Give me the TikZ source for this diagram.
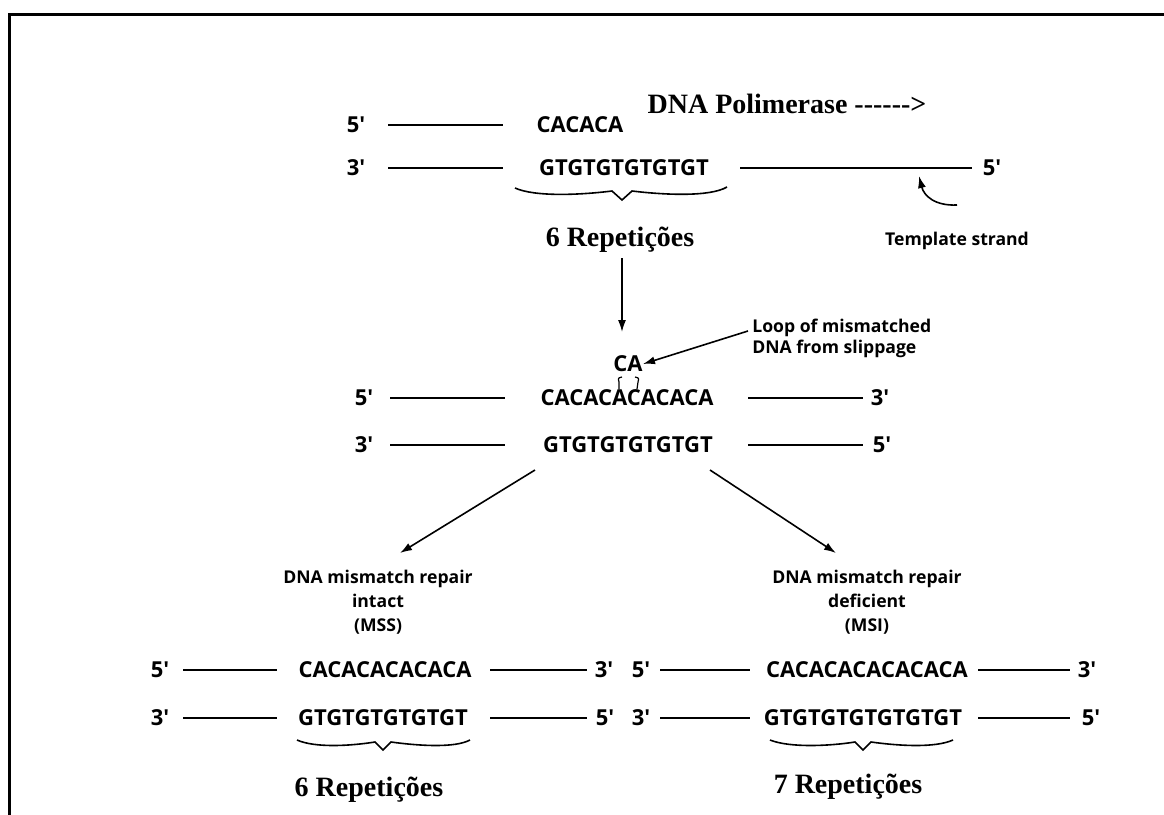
\documentclass[tikz,border=0pt]{standalone}
\usepackage{fontspec}
\setmainfont{Liberation Serif}
\newfontfamily\osans{Open Sans}
\usetikzlibrary{arrows.meta}
\begin{document}
\begin{tikzpicture}[x=0.5pt,y=-0.5pt,
 seq/.style={font=\osans\bfseries\fontsize{11}{13}\selectfont, inner sep=0},
 lab/.style={font=\osans\bfseries\fontsize{8.8}{12}\selectfont, inner sep=0, align=center},
 ser/.style={font=\bfseries\fontsize{14}{16}\selectfont, inner sep=0},
 strand/.style={line width=1pt},
 arr/.style={line width=0.8pt,-{Latex[length=6pt,width=4pt]}},
 bracestyle/.style={line width=0.8pt}]
\useasboundingbox (0,0) rectangle (1164,815);
\draw[line width=1.5pt] (9,815) -- (9,14) -- (1164,14);

% ---- top
\node[ser] (pol) at (787,104) {DNA Polimerase {-}{-}{-}{-}{-}{-}>};
\node[seq] (a5) at (356,125) {5'};
\node[seq] (aseq) at (580,125) {CACACA};
\draw[strand] (388,125) -- (503,125);
\node[seq] (b3) at (356,168) {3'};
\node[seq] (bseq) at (624,168) {GTGTGTGTGTGT};
\node[seq] (b5) at (992,168) {5'};
\draw[strand] (388,168) -- (503,168);
\draw[strand] (740,168) -- (972,168);
\draw[bracestyle] (515,188) .. controls (535,197) and (580,195) .. (612,191) -- (622,200) -- (632,191) .. controls (665,195) and (710,197) .. (727,187);
\node[ser] (rep1) at (620,240) {6 Repetições};
\node[lab] (tmpl) at (957,241) {Template strand};
\coordinate (tA) at (957,205);
\coordinate (tB) at (919,176);
\draw[arr] (tA) .. controls (935,206) and (924,196) .. (tB);

% ---- middle
\coordinate (vA) at (622,258);
\coordinate (vB) at (622,332);
\draw[arr] (vA) -- (vB);
\node[seq] (ca) at (628,364) {CA};
\node[lab, align=left, anchor=west, font=\osans\bfseries\fontsize{8.8}{10.5}\selectfont] (loop) at (752,338) {Loop of mismatched\\DNA from slippage};
\coordinate (lA) at (748,331);
\draw[arr] (lA) -- (ca.east);
\draw[line width=0.6pt] (622,377) .. controls (618,378) .. (619,382) -- (619,389);
\draw[line width=0.6pt] (635,377) .. controls (639,378) .. (638,382) -- (637,389);

\node[seq] (c5) at (364,398) {5'};
\node[seq] (cseq) at (627,398) {CACACACACACA};
\node[seq] (c3) at (880,398) {3'};
\draw[strand] (390,398) -- (505,398);
\draw[strand] (748,398) -- (863,398);
\node[seq] (d3) at (364,445) {3'};
\node[seq] (dseq) at (628,445) {GTGTGTGTGTGT};
\node[seq] (d5) at (882,445) {5'};
\draw[strand] (390,445) -- (505,445);
\draw[strand] (748,445) -- (863,445);

\coordinate (dL) at (535,470);
\coordinate (dR) at (710,470);
\coordinate (eL) at (400,553);
\coordinate (eR) at (836,553);
\draw[arr] (dL) -- (eL);
\draw[arr] (dR) -- (eR);

\node[lab] (mss) at (378,602) {DNA mismatch repair\\intact\\(MSS)};
\node[lab] (msi) at (867,602) {DNA mismatch repair\\deficient\\(MSI)};

% ---- bottom left
\node[seq] (f5) at (160,670) {5'};
\node[seq] (fseq) at (385,670) {CACACACACACA};
\node[seq] (f3) at (604,670) {3'};
\draw[strand] (183,670) -- (277,670);
\draw[strand] (490,670) -- (587,670);
\node[seq] (g3) at (160,718) {3'};
\node[seq] (gseq) at (383,718) {GTGTGTGTGTGT};
\node[seq] (g5) at (605,718) {5'};
\draw[strand] (183,718) -- (277,718);
\draw[strand] (490,718) -- (587,718);
\draw[bracestyle] (297,740) .. controls (315,748) and (350,746) .. (375,742) -- (383,750) -- (391,742) .. controls (420,746) and (455,748) .. (470,740);
\node[ser] (rep2) at (369,790) {6 Repetições};

% ---- bottom right
\node[seq] (h5) at (641,670) {5'};
\node[seq] (hseq) at (867,670) {CACACACACACACA};
\node[seq] (h3) at (1087,670) {3'};
\draw[strand] (660,670) -- (750,670);
\draw[strand] (978,670) -- (1070,670);
\node[seq] (i3) at (641,718) {3'};
\node[seq] (iseq) at (863,718) {GTGTGTGTGTGTGT};
\node[seq] (i5) at (1091,718) {5'};
\draw[strand] (660,718) -- (750,718);
\draw[strand] (978,718) -- (1070,718);
\draw[bracestyle] (770,740) .. controls (790,748) and (830,746) .. (855,742) -- (863,750) -- (871,742) .. controls (900,746) and (935,748) .. (953,740);
\node[ser] (rep3) at (848,787) {7 Repetições};
\end{tikzpicture}
\end{document}
